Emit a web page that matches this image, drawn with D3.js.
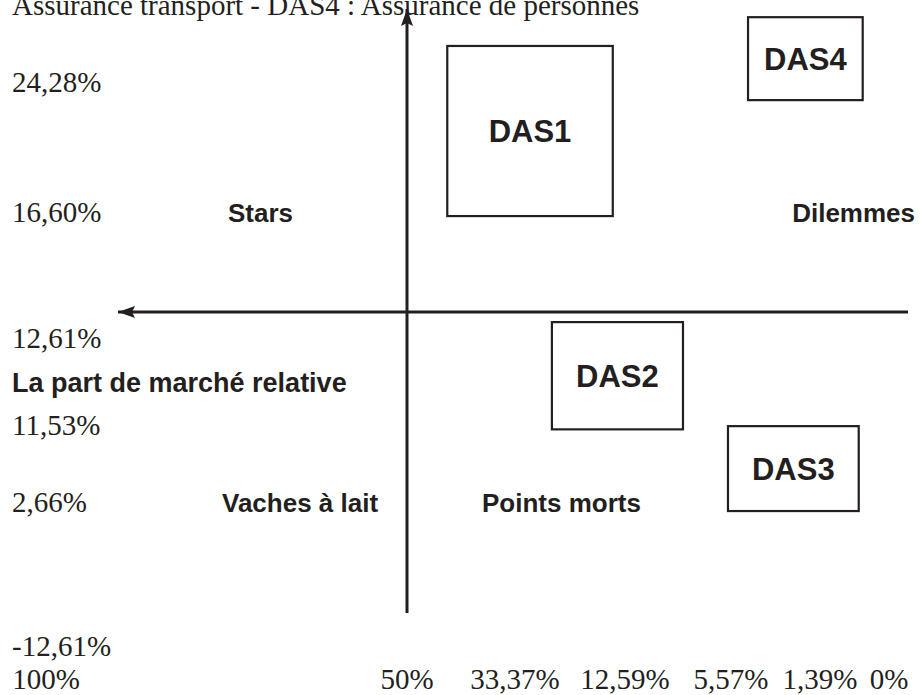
<!DOCTYPE html>
<html>
<head>
<meta charset="utf-8">
<script src="https://cdn.jsdelivr.net/npm/d3@7/dist/d3.min.js"></script>
<style>
  body { margin: 0; background: #fff; }
  svg { display: block; }
  .serif { font-family: "Liberation Serif", "Times New Roman", serif; font-size: 29px; fill: #231f20; }
  .bold { font-family: "Liberation Sans", Arial, sans-serif; font-weight: bold; fill: #231f20; }
</style>
</head>
<body>
<div id="chart"></div>
<script>
// taux de croissance du marche (axe vertical)
var growthTicks = [24.28, 16.60, 12.61, 11.53, 2.66, -12.61];
var growthLabels = ["24,28%", "16,60%", "12,61%", "11,53%", "2,66%", "-12,61%"];

// part de marche relative (axe horizontal, de 100% a 0%)
var shareTicks = [100, 50, 33.37, 12.59, 5.57, 1.39, 0];
var shareLabels = ["100%", "50%", "33,37%", "12,59%", "5,57%", "1,39%", "0%"];

// les domaines d'activite strategique : [debut, fin]
var dasNames = ["DAS1", "DAS2", "DAS3", "DAS4"];
var dasShare = [[43.8, 14.9], [26.4, 8.75], [5.77, 0.61], [4.77, 0.53]];
var dasGrowth = [[27.0, 16.95], [13.43, 11.60], [11.64, 2.77], [28.7, 23.8]];

var quadrants = ["Stars", "Dilemmes", "Vaches à lait", "Points morts"];
var quadrantRow = [16.60, 16.60, 2.66, 2.66];

var title = "Assurance transport - DAS4 : Assurance de personnes";
var axisTitle = "La part de marché relative";

// mise en page
var w = 920, h = 695;
var frame = { left: 118, right: 908, top: 9, bottom: 613, midY: 312, labelX: 12, bottomRow: 689 };
var quadrantX = [228, 915, 222, 482];
var quadrantAnchor = ["start", "end", "start", "start"];
var ink = "#231f20";

// echelles non lineaires : chaque graduation a sa propre place
var x = d3.scaleLinear().domain(shareTicks).range([46, 407, 515, 625, 731, 820, 889]);
var y = d3.scaleLinear().domain(growthTicks).range([92, 222, 348, 435, 512, 656]);

var svg = d3.select('#chart').append('svg')
  .attr('width', w)
  .attr('height', h);

svg.append('defs').append('marker')
  .attr('id', 'head')
  .attr('markerUnits', 'userSpaceOnUse')
  .attr('viewBox', '0 0 17 12')
  .attr('markerWidth', 17)
  .attr('markerHeight', 12)
  .attr('refX', 17)
  .attr('refY', 6)
  .attr('orient', 'auto')
  .append('path')
  .attr('d', 'M0,0 L17,6 L0,12 L3,6 Z')
  .attr('fill', ink);

// titre coupe en haut
svg.append('text')
  .attr('class', 'serif')
  .attr('x', frame.labelX)
  .attr('y', 15)
  .text(title);

// axes
var cx = x(50);
svg.append('line')
  .attr('x1', cx).attr('y1', frame.bottom)
  .attr('x2', cx).attr('y2', frame.top)
  .attr('stroke', ink).attr('stroke-width', 3)
  .attr('marker-end', 'url(#head)');

svg.append('line')
  .attr('x1', frame.right).attr('y1', frame.midY)
  .attr('x2', frame.left).attr('y2', frame.midY)
  .attr('stroke', ink).attr('stroke-width', 3)
  .attr('marker-end', 'url(#head)');

// graduations du taux de croissance
svg.selectAll('.gtick')
  .data(growthTicks)
  .enter().append('text')
  .attr('class', 'serif gtick')
  .attr('x', frame.labelX)
  .attr('y', function(d) { return y(d); })
  .text(function(d, i) { return growthLabels[i]; });

// graduations de la part de marche
svg.selectAll('.stick')
  .data(shareTicks)
  .enter().append('text')
  .attr('class', 'serif stick')
  .attr('x', function(d) { return x(d); })
  .attr('y', frame.bottomRow)
  .attr('text-anchor', 'middle')
  .text(function(d, i) { return shareLabels[i]; });

svg.append('text')
  .attr('class', 'bold')
  .attr('x', frame.labelX)
  .attr('y', 392)
  .style('font-size', '27px')
  .text(axisTitle);

// noms des quadrants
svg.selectAll('.quad')
  .data(quadrants)
  .enter().append('text')
  .attr('class', 'bold quad')
  .attr('x', function(d, i) { return quadrantX[i]; })
  .attr('y', function(d, i) { return y(quadrantRow[i]); })
  .attr('text-anchor', function(d, i) { return quadrantAnchor[i]; })
  .style('font-size', '26px')
  .text(function(d) { return d; });

// les DAS
var das = svg.selectAll('.das')
  .data(dasNames)
  .enter().append('g')
  .attr('class', 'das');

das.append('rect')
  .attr('x', function(d, i) { return x(dasShare[i][0]); })
  .attr('y', function(d, i) { return y(dasGrowth[i][0]); })
  .attr('width', function(d, i) { return x(dasShare[i][1]) - x(dasShare[i][0]); })
  .attr('height', function(d, i) { return y(dasGrowth[i][1]) - y(dasGrowth[i][0]); })
  .attr('fill', 'none')
  .attr('stroke', ink)
  .attr('stroke-width', 2.2);

das.append('text')
  .attr('class', 'bold')
  .attr('x', function(d, i) { return (x(dasShare[i][0]) + x(dasShare[i][1])) / 2; })
  .attr('y', function(d, i) { return (y(dasGrowth[i][0]) + y(dasGrowth[i][1])) / 2; })
  .attr('dy', '0.36em')
  .attr('text-anchor', 'middle')
  .style('font-size', '31px')
  .text(function(d) { return d; });
</script>
</body>
</html>
